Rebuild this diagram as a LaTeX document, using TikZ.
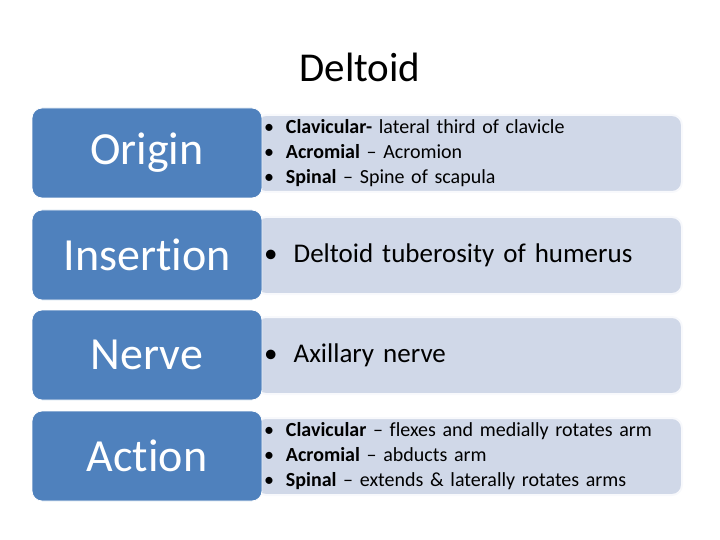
\documentclass[tikz,border=0pt]{standalone}
\usepackage{fontspec}
\setmainfont[Ligatures={NoCommon}]{Carlito}
\definecolor{bl}{HTML}{4F81BD}
\definecolor{lt}{HTML}{D0D8E8}
\newcommand{\bu}{\textbullet\hspace{0.6em}}
\begin{document}
\begin{tikzpicture}[x=1pt,y=-1pt,
 head/.style={fill=bl,draw=white,line width=0.8pt,rounded corners=10pt,minimum width=230pt,minimum height=90pt,text=white,font=\fontsize{46}{50}\selectfont},
 body/.style={fill=lt,draw=white!85!lt,line width=2pt,rounded corners=10pt,minimum width=425pt,minimum height=77pt,anchor=west,text width=410pt,align=left,inner xsep=8pt},
 small/.style={font=\fontsize{20}{25}\selectfont},
 big/.style={font=\fontsize{27}{30}\selectfont}]
\useasboundingbox (0,0) rectangle (720,540);
\node[font=\fontsize{41}{46}\selectfont] (t) at (360,67) {Deltoid};
\node[body,small] (b1) at (255,153.5) {\bu\textbf{Clavicular-} lateral third of clavicle\\ \bu\textbf{Acromial} -- Acromion\\ \bu\textbf{Spinal} -- Spine of scapula};
\node[body,big] (b2) at (255,255.5) {\bu Deltoid tuberosity of humerus};
\node[body,big] (b3) at (255,355.5) {\bu Axillary nerve};
\node[body,small] (b4) at (255,456.5) {\bu\textbf{Clavicular} -- flexes and medially rotates arm\\ \bu\textbf{Acromial} -- abducts arm\\ \bu\textbf{Spinal} -- extends \& laterally rotates arms};
\node[head] (h1) at (147,153) {Origin};
\node[head] (h2) at (147,255) {Insertion};
\node[head] (h3) at (147,355) {Nerve};
\node[head] (h4) at (147,456) {Action};
\end{tikzpicture}
\end{document}
